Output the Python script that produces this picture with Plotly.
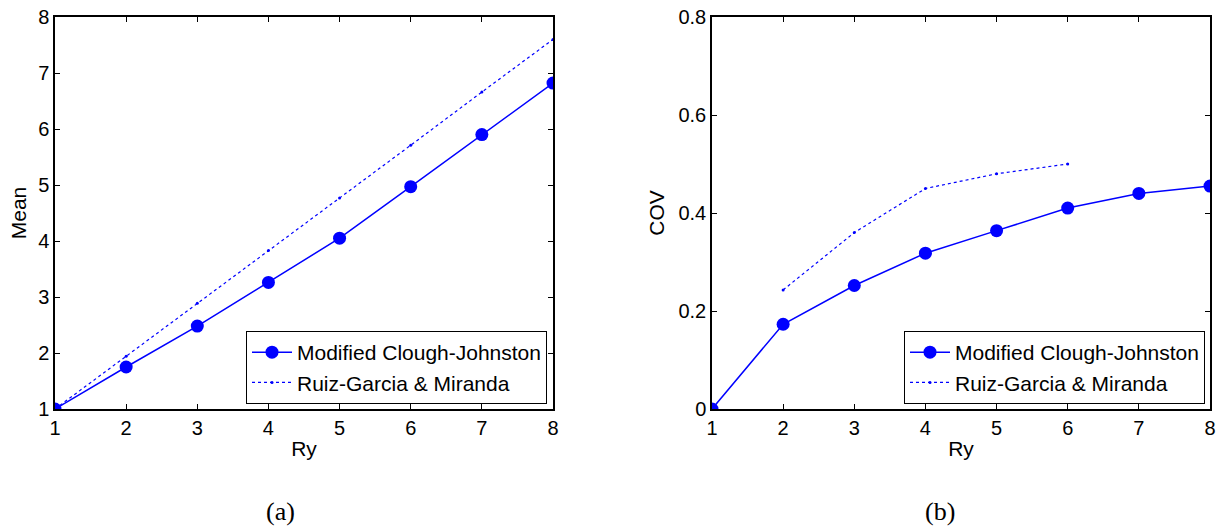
import plotly.graph_objects as go

ry = [1, 2, 3, 4, 5, 6, 7, 8]
mean_cj = [1.0, 1.75, 2.48, 3.26, 4.05, 4.97, 5.90, 6.82]
mean_rg = [1.0, 1.94, 2.89, 3.83, 4.77, 5.71, 6.66, 7.60]
ry_rg_cov = [2, 3, 4, 5, 6]
cov_cj = [0.0, 0.173, 0.252, 0.318, 0.364, 0.410, 0.440, 0.455]
cov_rg = [0.243, 0.360, 0.450, 0.480, 0.500]
name_cj = "Modified Clough-Johnston"
name_rg = "Ruiz-Garcia & Miranda"

BLUE = "rgb(0,0,255)"
W, H = 1222, 526

fig = go.Figure()
fig.add_trace(go.Scatter(x=ry, y=mean_cj, mode="lines+markers", name=name_cj,
                         line=dict(color=BLUE, width=1.5),
                         marker=dict(symbol="circle", size=13, color=BLUE),
                         xaxis="x", yaxis="y", legend="legend"))
fig.add_trace(go.Scatter(x=ry, y=mean_rg, mode="lines+markers", name=name_rg,
                         line=dict(color=BLUE, width=1.2, dash="dot"),
                         marker=dict(symbol="circle", size=3, color=BLUE),
                         xaxis="x", yaxis="y", legend="legend"))
fig.add_trace(go.Scatter(x=ry, y=cov_cj, mode="lines+markers", name=name_cj,
                         line=dict(color=BLUE, width=1.5),
                         marker=dict(symbol="circle", size=13, color=BLUE),
                         xaxis="x2", yaxis="y2", legend="legend2"))
fig.add_trace(go.Scatter(x=ry_rg_cov, y=cov_rg, mode="lines+markers", name=name_rg,
                         line=dict(color=BLUE, width=1.2, dash="dot"),
                         marker=dict(symbol="circle", size=3, color=BLUE),
                         xaxis="x2", yaxis="y2", legend="legend2"))

FONT = "Liberation Sans, Arial, sans-serif"
SERIF = "Liberation Serif, Times New Roman, serif"
ax_common = dict(showline=True, linecolor="black", linewidth=1.5, mirror="ticks",
                 ticks="inside", ticklen=5, tickcolor="black", tickwidth=1,
                 showgrid=False, zeroline=False, automargin=False,
                 tickfont=dict(family=FONT, size=20, color="black"))

ydom = [1 - 409 / H, 1 - 17 / H]
xtitle = dict(text="Ry", font=dict(family=FONT, size=21), standoff=4)
legend_common = dict(xanchor="right", yanchor="bottom", bgcolor="white",
                     bordercolor="black", borderwidth=1, tracegroupgap=0,
                     itemwidth=40,
                     font=dict(family=FONT, size=21, color="black"))
fig.update_layout(
    width=W, height=H,
    margin=dict(l=0, r=0, t=0, b=0),
    paper_bgcolor="white", plot_bgcolor="white",
    font=dict(family=FONT, size=20, color="black"),
    xaxis=dict(domain=[55 / W, 553 / W], range=[1, 8], dtick=1, anchor="y",
               title=xtitle, **ax_common),
    yaxis=dict(domain=ydom, range=[1, 8], dtick=1, anchor="x",
               title=dict(text="Mean", font=dict(family=FONT, size=21), standoff=6),
               **ax_common),
    xaxis2=dict(domain=[712 / W, 1210 / W], range=[1, 8], dtick=1, anchor="y2",
                title=xtitle, **ax_common),
    yaxis2=dict(domain=ydom, range=[0, 0.8], dtick=0.2, anchor="x2", tickformat=".1~f",
                title=dict(text="COV", font=dict(family=FONT, size=21), standoff=8),
                **ax_common),
    legend=dict(x=547 / W, y=1 - 404 / H, **legend_common),
    legend2=dict(x=1205 / W, y=1 - 404 / H, **legend_common),
    annotations=[
        dict(text="(a)", x=280 / W, y=1 - 511 / H, xref="paper", yref="paper",
             xanchor="center", yanchor="middle",
             showarrow=False, font=dict(family=SERIF, size=26, color="black")),
        dict(text="(b)", x=940 / W, y=1 - 511 / H, xref="paper", yref="paper",
             xanchor="center", yanchor="middle",
             showarrow=False, font=dict(family=SERIF, size=26, color="black")),
    ],
)

fig.write_html("out.html", config={"displayModeBar": False},
               post_script="document.body.style.margin='0';document.body.style.overflow='hidden';")
